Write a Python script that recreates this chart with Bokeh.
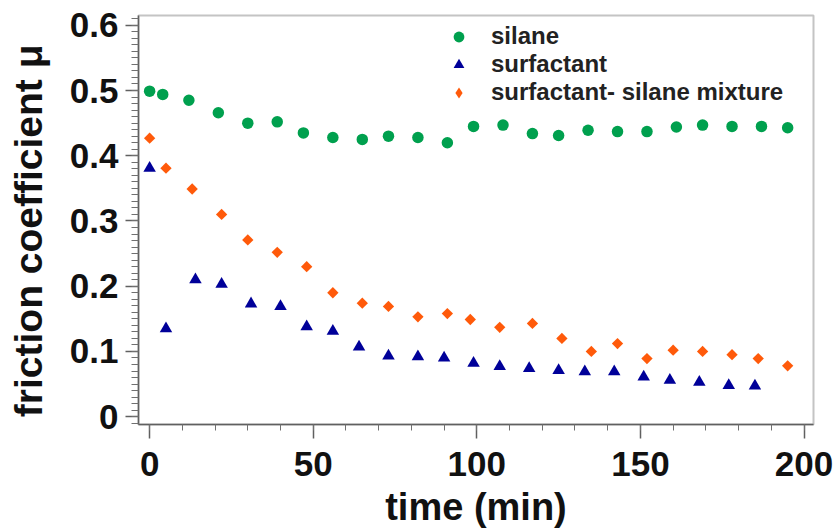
import numpy as np
from bokeh.plotting import figure
from bokeh.models import (Range1d, SingleIntervalTicker, CustomJSTickFormatter,
                          Legend, LegendItem)
from bokeh.embed import file_html
from bokeh.resources import INLINE

# ---- data ----
silane_t = [0, 4, 12, 21, 30, 39, 47, 56, 65, 73, 82, 91, 99, 108, 117, 125,
            134, 143, 152, 161, 169, 178, 187, 195]
silane_mu = [0.499, 0.494, 0.485, 0.466, 0.450, 0.452, 0.435, 0.428, 0.425,
             0.430, 0.428, 0.420, 0.445, 0.447, 0.434, 0.431, 0.439, 0.437,
             0.437, 0.444, 0.447, 0.445, 0.445, 0.443]

surf_t = [0, 5, 14, 22, 31, 40, 48, 56, 64, 73, 82, 90, 99, 107, 116, 125,
          133, 142, 151, 159, 168, 177, 185]
surf_mu = [0.381, 0.135, 0.210, 0.203, 0.173, 0.169, 0.138, 0.131, 0.107,
           0.093, 0.092, 0.090, 0.082, 0.077, 0.074, 0.071, 0.069, 0.069,
           0.061, 0.056, 0.053, 0.048, 0.047]

mix_t = [0, 5, 13, 22, 30, 39, 48, 56, 65, 73, 82, 91, 98, 107, 117, 126,
         135, 143, 152, 160, 169, 178, 186, 195]
mix_mu = [0.427, 0.381, 0.349, 0.310, 0.271, 0.252, 0.230, 0.190, 0.174,
          0.169, 0.153, 0.158, 0.149, 0.137, 0.143, 0.120, 0.100, 0.112,
          0.089, 0.102, 0.100, 0.095, 0.089, 0.078]

labels = ["silane", "surfactant", "surfactant- silane mixture"]
colors = ["#00a04e", "#000099", "#ff5a0a"]

FONT = "Liberation Sans"

p = figure(width=836, height=530, output_backend="svg", toolbar_location=None,
           x_range=Range1d(-3.4, 202.9), y_range=Range1d(-0.012, 0.615),
           min_border_left=138, min_border_right=23, min_border_top=15,
           min_border_bottom=106)

p.xgrid.visible = False
p.ygrid.visible = False
p.outline_line_color = "#c4c4c4"
p.outline_line_width = 2
p.background_fill_color = "white"
p.border_fill_color = "white"

r1 = p.scatter(silane_t, silane_mu, marker="circle", size=11.5,
               fill_color=colors[0], line_color=None)
r2 = p.scatter(surf_t, surf_mu, marker="triangle", size=12.5,
               fill_color=colors[1], line_color=None)
r3 = p.scatter(mix_t, mix_mu, marker="square", angle=np.pi / 4, size=8,
               fill_color=colors[2], line_color=None)
# legend-only stand-in (legend glyphs ignore marker angle)
r3_leg = p.scatter(mix_t, mix_mu, marker="diamond", size=11,
                   fill_color=colors[2], line_color=None, visible=False)

# axes
xa = p.xaxis[0]
xa.ticker = SingleIntervalTicker(interval=50, num_minor_ticks=5)
ya = p.yaxis[0]
ya.ticker = SingleIntervalTicker(interval=0.1, num_minor_ticks=10)
ya.formatter = CustomJSTickFormatter(
    code="return Math.abs(tick) < 1e-9 ? '0' : tick.toFixed(1);")

for ax in (xa, ya):
    ax.axis_line_color = "#606060"
    ax.axis_line_width = 1.5
    ax.major_tick_line_color = "#606060"
    ax.minor_tick_line_color = "#707070"
    ax.major_tick_line_width = 1.5
    ax.major_tick_in = 0
    ax.minor_tick_in = 0
    ax.major_label_text_font = FONT
    ax.major_label_text_font_style = "bold"
    ax.major_label_text_font_size = "35px"
    ax.major_label_text_color = "#111111"
    ax.axis_label_text_font = FONT
    ax.axis_label_text_font_style = "bold"
    ax.axis_label_text_color = "#111111"

xa.major_tick_out = 14
xa.minor_tick_out = 6
xa.major_label_standoff = 13
xa.axis_label = "time (min)"
xa.axis_label_text_font_size = "38px"
xa.axis_label_standoff = 7

ya.major_tick_out = 13
ya.minor_tick_out = 7
ya.major_label_standoff = 7
ya.axis_label = "friction coefficient μ\u00a0\u00a0"
ya.axis_label_text_font_size = "39px"
ya.axis_label_standoff = 17

legend = Legend(items=[LegendItem(label=labels[0], renderers=[r1]),
                       LegendItem(label=labels[1], renderers=[r2]),
                       LegendItem(label=labels[2], renderers=[r3_leg])],
                location=(307, 318), orientation="vertical")
legend.border_line_color = None
legend.background_fill_alpha = 0
legend.padding = 8
legend.margin = 0
legend.glyph_width = 27
legend.glyph_height = 27
legend.label_height = 27
legend.spacing = 0
legend.label_standoff = 19
legend.label_text_font = FONT
legend.label_text_font_style = "bold"
legend.label_text_font_size = "24px"
legend.label_text_color = "#222222"
legend.label_text_baseline = "middle"
p.add_layout(legend, "center")

open("out.html", "w").write(file_html(p, INLINE))
